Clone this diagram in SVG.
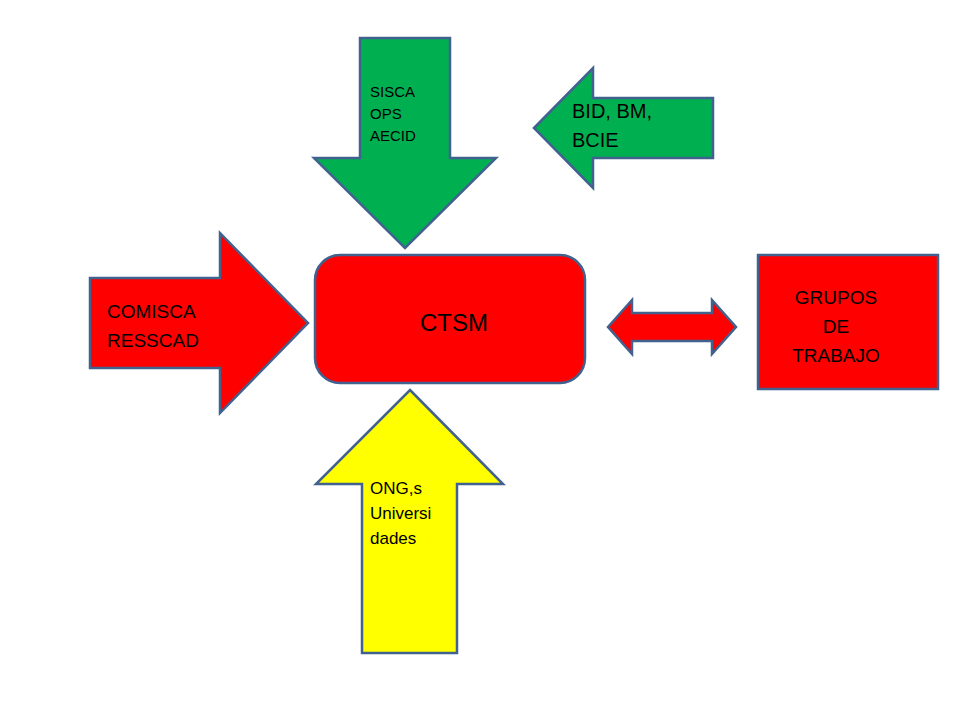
<svg xmlns="http://www.w3.org/2000/svg" width="960" height="720" viewBox="0 0 960 720">
<style>
.s{stroke:#41628f;stroke-width:2.5;stroke-linejoin:miter}
.t{font-family:"Liberation Sans",Arial,sans-serif;fill:#000}
</style>
<rect width="960" height="720" fill="#fff"/>
<g id="connectors">
<polygon class="s" fill="#e00000" points="608,327 632,300 632,313 712,313 712,300 736,327 712,354 712,341 632,341 632,354" style="fill:#ff0000"/>
</g>
<g id="sisca">
<polygon class="s" fill="#00b050" points="360,38 450,38 450,158 496,158 405,248 314,158 360,158"/>
<text class="t" font-size="15"><tspan x="370" y="97">SISCA</tspan><tspan x="370" y="119">OPS</tspan><tspan x="370" y="141">AECID</tspan></text>
</g>
<g id="bid">
<polygon class="s" fill="#00b050" points="534,128 593,68 593,98 713,98 713,158 593,158 593,188"/>
<text class="t" font-size="20"><tspan x="572" y="118">BID, BM,</tspan><tspan x="572" y="147">BCIE</tspan></text>
</g>
<g id="comisca">
<polygon class="s" fill="#ff0000" points="90,278 220,278 220,233 308,323 220,413 220,368 90,368"/>
<text class="t" font-size="19"><tspan x="107" y="318">COMISCA</tspan><tspan x="107" y="347">RESSCAD</tspan></text>
</g>
<g id="ctsm">
<rect class="s" fill="#ff0000" x="315" y="255" width="270" height="128" rx="25"/>
<text class="t" font-size="24" x="454" y="331" text-anchor="middle">CTSM</text>
</g>
<g id="grupos">
<rect class="s" fill="#ff0000" x="758" y="255" width="180" height="134"/>
<text class="t" font-size="19" text-anchor="middle"><tspan x="836" y="304">GRUPOS</tspan><tspan x="836" y="333">DE</tspan><tspan x="836" y="362">TRABAJO</tspan></text>
</g>
<g id="ong">
<polygon class="s" fill="#ffff00" points="410,390 503,484 457,484 457,653 362,653 362,484 316,484"/>
<text class="t" font-size="17"><tspan x="370" y="494">ONG,s</tspan><tspan x="370" y="519">Universi</tspan><tspan x="370" y="544">dades</tspan></text>
</g>
</svg>
